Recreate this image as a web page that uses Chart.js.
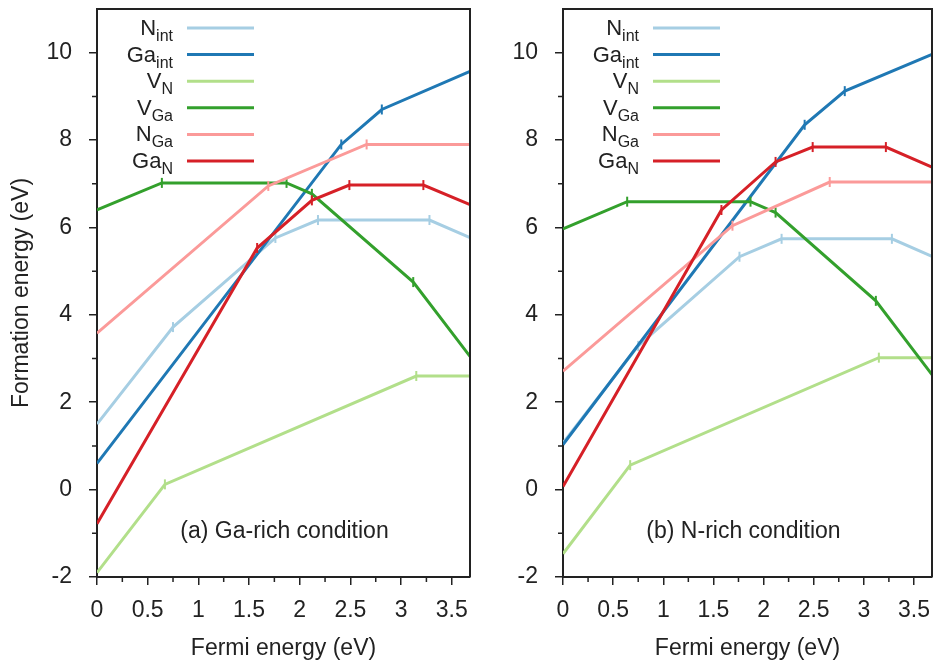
<!DOCTYPE html>
<html>
<head>
<meta charset="utf-8">
<script src="https://cdn.jsdelivr.net/npm/chart.js@4.4.1/dist/chart.umd.min.js"></script>
<style>
  body { margin: 0; background: #fff; }
  #wrap { position: relative; width: 937px; height: 664px; }
  #chartA { position: absolute; left: 0; top: 0; }
  #chartB { position: absolute; left: 474px; top: 0; }
</style>
</head>
<body>
<div id="wrap">
  <canvas id="chartA" width="474" height="664"></canvas>
  <canvas id="chartB" width="463" height="664"></canvas>
</div>
<script>
// defect names, drawn as main text + subscript
const defectMain = ['N', 'Ga', 'V', 'V', 'N', 'Ga']
const defectSub = ['int', 'int', 'N', 'Ga', 'Ga', 'N']
const colors = ['#a6cee3', '#1f78b4', '#b2df8a', '#33a02c', '#fb9a99', '#d62027']
const panelLabels = ['(a) Ga-rich condition', '(b) N-rich condition']

// Fermi energy of the kinks (eV), same in both panels
const xNint = [0, 0.75, 1.76, 2.18, 3.28, 3.68]
const xGaint = [0, 2.41, 2.81, 3.68]
const xVN = [0, 0.67, 3.15, 3.68]
const xVGa = [0, 0.64, 1.87, 2.12, 3.12, 3.68]
const xNGa = [0, 1.69, 2.66, 3.68]
const xGaN = [0, 1.58, 2.12, 2.49, 3.22, 3.68]

// formation energy (eV), Ga-rich
const gaRichNint = [1.5, 3.72, 5.76, 6.17, 6.17, 5.77]
const gaRichGaint = [0.6, 7.9, 8.7, 9.57]
const gaRichVN = [-1.9, 0.12, 2.6, 2.6]
const gaRichVGa = [6.4, 7.02, 7.02, 6.77, 4.75, 3.05]
const gaRichNGa = [3.58, 6.95, 7.9, 7.9]
const gaRichGaN = [-0.78, 5.53, 6.62, 6.97, 6.97, 6.52]

// formation energy (eV), N-rich
const nRichNint = [1.07, 3.29, 5.33, 5.74, 5.74, 5.34]
const nRichGaint = [1.03, 8.35, 9.12, 9.96]
const nRichVN = [-1.47, 0.56, 3.02, 3.02]
const nRichVGa = [5.97, 6.59, 6.59, 6.34, 4.32, 2.63]
const nRichNGa = [2.71, 6.04, 7.04, 7.04]
const nRichGaN = [0.07, 6.4, 7.5, 7.84, 7.84, 7.38]

const xTicks = [0, 0.5, 1, 1.5, 2, 2.5, 3, 3.5]
const xMinorTicks = [0.25, 0.75, 1.25, 1.75, 2.25, 2.75, 3.25]
const yTicks = [-2, 0, 2, 4, 6, 8, 10]
const yMinorTicks = [-1, 1, 3, 5, 7, 9]

const ink = '#222'
const fontName = '"Liberation Sans", Arial, sans-serif'
const xs = [xNint, xGaint, xVN, xVGa, xNGa, xGaN]

function makeDatasets(ys) {
  return ys.map((yArr, i) => ({
    label: defectMain[i] + defectSub[i],
    data: yArr.map((v, j) => ({ x: xs[i][j], y: v })),
    borderColor: colors[i],
    backgroundColor: colors[i],
    borderWidth: 3,
    pointStyle: 'line',
    rotation: 90,
    pointBorderColor: colors[i],
    pointBorderWidth: 2,
    pointRadius: c => (c.dataIndex === 0 || c.dataIndex === yArr.length - 1) ? 0 : 5,
    order: 5 - i,
    tension: 0
  }))
}

// frame on top/right + minor ticks
const framePlugin = {
  id: 'frame',
  afterDraw(chart) {
    const { ctx, chartArea: a, scales: { x, y } } = chart
    ctx.save()
    ctx.strokeStyle = ink
    ctx.lineWidth = 2
    ctx.beginPath()
    ctx.moveTo(a.left, a.top)
    ctx.lineTo(a.right, a.top)
    ctx.lineTo(a.right, a.bottom)
    ctx.stroke()
    ctx.lineWidth = 1.5
    ctx.beginPath()
    xMinorTicks.forEach(v => {
      const px = x.getPixelForValue(v)
      ctx.moveTo(px, a.bottom)
      ctx.lineTo(px, a.bottom + 5)
    })
    yMinorTicks.forEach(v => {
      const py = y.getPixelForValue(v)
      ctx.moveTo(a.left, py)
      ctx.lineTo(a.left - 5, py)
    })
    ctx.stroke()
    ctx.restore()
  }
}

// legend with subscripts + panel note
const legendPlugin = {
  id: 'defectLegend',
  afterDraw(chart, args, opts) {
    const { ctx, chartArea: a } = chart
    ctx.save()
    chart.data.datasets.forEach((ds, i) => {
      const yy = a.top + 19 + i * 26.6
      ctx.strokeStyle = ds.borderColor
      ctx.lineWidth = 3
      ctx.beginPath()
      ctx.moveTo(a.left + 90, yy)
      ctx.lineTo(a.left + 157, yy)
      ctx.stroke()
      ctx.fillStyle = ink
      ctx.textAlign = 'right'
      ctx.textBaseline = 'alphabetic'
      ctx.font = '16px ' + fontName
      const subW = ctx.measureText(defectSub[i]).width
      ctx.fillText(defectSub[i], a.left + 76, yy + 13)
      ctx.font = '22px ' + fontName
      ctx.fillText(defectMain[i], a.left + 76 - subW, yy + 7)
    })
    ctx.font = '23px ' + fontName
    ctx.textAlign = 'center'
    ctx.textBaseline = 'middle'
    ctx.fillStyle = ink
    ctx.fillText(opts.text, (a.left + a.right) / 2 + opts.dx, 532)
    ctx.restore()
  }
}

function makeChart(id, ys, note, yWidth, padRight, showTitle, dx) {
  return new Chart(document.getElementById(id), {
    type: 'line',
    data: { datasets: makeDatasets(ys) },
    options: {
      responsive: false,
      animation: false,
      layout: { padding: { top: 9, right: padRight, left: 0, bottom: 0 } },
      plugins: {
        legend: { display: false },
        tooltip: { enabled: false },
        defectLegend: { text: note, dx: dx }
      },
      scales: {
        x: {
          type: 'linear',
          min: 0,
          max: 3.68,
          afterBuildTicks: s => { s.ticks = xTicks.map(v => ({ value: v })) },
          afterFit: s => { s.height = 87; s.paddingLeft = 0; s.paddingRight = 0 },
          ticks: {
            color: ink,
            padding: 12,
            font: { family: fontName, size: 23 },
            callback: v => String(v)
          },
          grid: { drawOnChartArea: false, tickLength: 8, color: ink, lineWidth: 1.5 },
          border: { display: true, color: ink, width: 2 },
          title: {
            display: true,
            text: 'Fermi energy (eV)',
            color: ink,
            font: { family: fontName, size: 23 },
            padding: { top: 0, bottom: 2 }
          }
        },
        y: {
          type: 'linear',
          min: -2,
          max: 11,
          afterBuildTicks: s => { s.ticks = yTicks.map(v => ({ value: v })) },
          afterFit: s => { s.width = yWidth; s.paddingTop = 0; s.paddingBottom = 0 },
          ticks: {
            color: ink,
            padding: 17,
            font: { family: fontName, size: 23 },
            callback: v => String(v)
          },
          grid: { drawOnChartArea: false, tickLength: 8, color: ink, lineWidth: 1.5 },
          border: { display: true, color: ink, width: 2 },
          title: {
            display: showTitle,
            text: 'Formation energy (eV)',
            color: ink,
            font: { family: fontName, size: 23 },
            padding: { top: 8, bottom: 0 }
          }
        }
      }
    },
    plugins: [framePlugin, legendPlugin]
  })
}

makeChart('chartA',
  [gaRichNint, gaRichGaint, gaRichVN, gaRichVGa, gaRichNGa, gaRichGaN],
  panelLabels[0], 97, 4, true, 1)
makeChart('chartB',
  [nRichNint, nRichGaint, nRichVN, nRichVGa, nRichNGa, nRichGaN],
  panelLabels[1], 89, 5, false, -4)
</script>
</body>
</html>
